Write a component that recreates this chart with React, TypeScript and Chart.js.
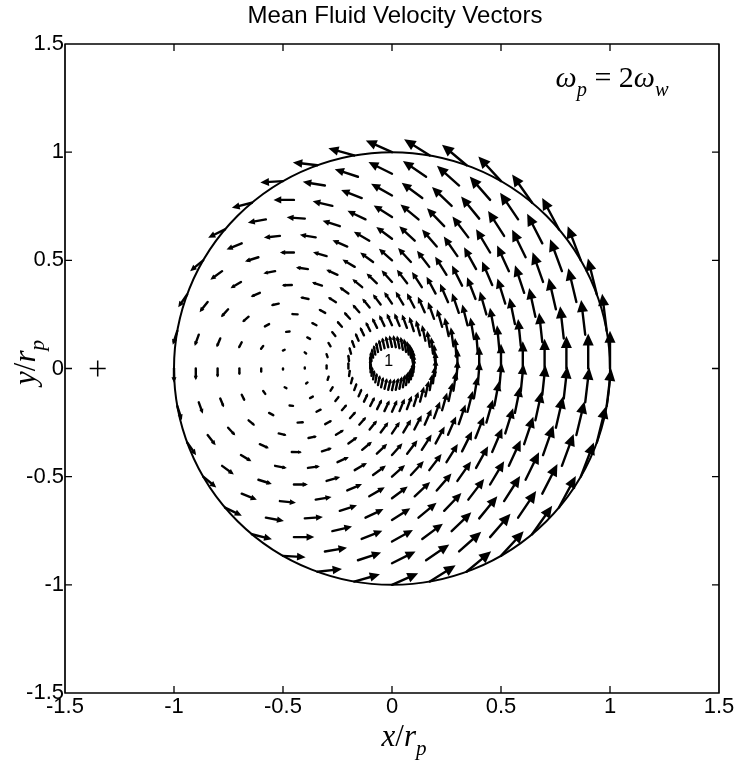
import React, { useEffect, useRef } from "react";
import { Chart, registerables } from "chart.js";

Chart.register(...registerables);

const TITLE = "Mean Fluid Velocity Vectors";
const xTicks = [-1.5, -1, -0.5, 0, 0.5, 1, 1.5];
const yTicks = [-1.5, -1, -0.5, 0, 0.5, 1, 1.5];

// Polar sampling grid of the vectors
const ringRadii = [0.1, 0.2, 0.3, 0.4, 0.5, 0.6, 0.7, 0.8, 0.9, 1.0];
const ringAnglesDeg = [
  0, 10, 20, 30, 40, 50, 60, 70, 80, 90, 100, 110, 120, 130, 140, 150, 160, 170,
  180, 190, 200, 210, 220, 230, 240, 250, 260, 270, 280, 290, 300, 310, 320, 330, 340, 350,
];
// The mean flow is a counter-clockwise swirl about a stagnation point
const swirlCenter = [-0.45, 0];
const arrowScale = 0.12; // arrow length in x/r_p units per unit swirl speed

const boundaryRadius = 1;
const plusMarker = [{ x: -1.35, y: 0 }];
const centerLabel = { x: -0.015, y: 0.03, text: "1" };
const annotationPos = { x: 0.75, y: 1.3 };

type Seg = { t: string; it?: boolean; sub?: boolean };

function serifFont(size: number, italic: boolean) {
  return `${italic ? "italic " : ""}${size}px "Liberation Serif", "Times New Roman", serif`;
}

function drawRich(ctx: CanvasRenderingContext2D, segs: Seg[], x: number, y: number, size: number, align: "left" | "center") {
  const fs = (s: Seg) => serifFont(s.sub ? size * 0.68 : size, !!s.it);
  let total = 0;
  for (const s of segs) {
    ctx.font = fs(s);
    total += ctx.measureText(s.t).width;
  }
  let cx = align === "center" ? x - total / 2 : x;
  ctx.textAlign = "left";
  ctx.textBaseline = "alphabetic";
  for (const s of segs) {
    ctx.font = fs(s);
    ctx.fillText(s.t, cx, y + (s.sub ? size * 0.3 : 0));
    cx += ctx.measureText(s.t).width;
  }
}

function drawArrow(ctx: CanvasRenderingContext2D, x0: number, y0: number, x1: number, y1: number) {
  const dx = x1 - x0;
  const dy = y1 - y0;
  const len = Math.hypot(dx, dy);
  if (len < 1.2) {
    ctx.fillRect(x0 - 1.2, y0 - 1.2, 2.4, 2.4);
    return;
  }
  const ux = dx / len;
  const uy = dy / len;
  const hl = Math.min(len * 0.38, 12);
  const hw = hl * 0.46;
  const bx = x1 - ux * hl;
  const by = y1 - uy * hl;
  ctx.beginPath();
  ctx.moveTo(x0, y0);
  ctx.lineTo(bx + ux * hl * 0.4, by + uy * hl * 0.4);
  ctx.stroke();
  ctx.beginPath();
  ctx.moveTo(x1, y1);
  ctx.lineTo(bx - uy * hw, by + ux * hw);
  ctx.lineTo(bx + uy * hw, by - ux * hw);
  ctx.closePath();
  ctx.fill();
}

const fieldPlugin = {
  id: "fieldPlugin",
  afterDatasetsDraw(chart: any) {
    const ctx: CanvasRenderingContext2D = chart.ctx;
    const xs = chart.scales.x;
    const ys = chart.scales.y;
    const { left, right, top, bottom } = chart.chartArea;
    ctx.save();
    ctx.strokeStyle = "#000";
    ctx.fillStyle = "#000";

    // boundary circle
    const cx = xs.getPixelForValue(0);
    const cy = ys.getPixelForValue(0);
    const rx = xs.getPixelForValue(boundaryRadius) - cx;
    const ry = cy - ys.getPixelForValue(boundaryRadius);
    ctx.lineWidth = 2;
    ctx.beginPath();
    ctx.ellipse(cx, cy, rx, ry, 0, 0, Math.PI * 2);
    ctx.stroke();

    // velocity vectors
    ctx.lineWidth = 2.4;
    ctx.lineCap = "round";
    ctx.lineJoin = "round";
    for (const r of ringRadii) {
      for (const a of ringAnglesDeg) {
        const t = (a * Math.PI) / 180;
        const x0 = r * Math.cos(t);
        const y0 = r * Math.sin(t);
        const u = -(y0 - swirlCenter[1]) * arrowScale;
        const v = (x0 - swirlCenter[0]) * arrowScale;
        drawArrow(
          ctx,
          xs.getPixelForValue(x0),
          ys.getPixelForValue(y0),
          xs.getPixelForValue(x0 + u),
          ys.getPixelForValue(y0 + v)
        );
      }
    }

    // center label
    ctx.fillStyle = "#fff";
    const lx = xs.getPixelForValue(centerLabel.x);
    const ly = ys.getPixelForValue(centerLabel.y);
    ctx.fillStyle = "#000";
    ctx.font = '16px "Liberation Sans", Arial, sans-serif';
    ctx.textAlign = "center";
    ctx.textBaseline = "middle";
    ctx.fillText(centerLabel.text, lx, ly);

    // frame
    ctx.lineWidth = 1.7;
    ctx.lineCap = "butt";
    ctx.strokeRect(left, top, right - left, bottom - top);

    // inner ticks
    const tl = 7;
    ctx.lineWidth = 1.3;
    ctx.beginPath();
    for (const v of xTicks) {
      if (v <= -1.5 || v >= 1.5) continue;
      const px = xs.getPixelForValue(v);
      ctx.moveTo(px, bottom);
      ctx.lineTo(px, bottom - tl);
      ctx.moveTo(px, top);
      ctx.lineTo(px, top + tl);
    }
    for (const v of yTicks) {
      if (v <= -1.5 || v >= 1.5) continue;
      const py = ys.getPixelForValue(v);
      ctx.moveTo(left, py);
      ctx.lineTo(left + tl, py);
      ctx.moveTo(right, py);
      ctx.lineTo(right - tl, py);
    }
    ctx.stroke();

    // title
    ctx.font = '24px "Liberation Sans", Arial, sans-serif';
    ctx.textAlign = "center";
    ctx.textBaseline = "middle";
    ctx.fillText(TITLE, (left + right) / 2 + 3, 16);

    // annotation ω_p = 2ω_w
    drawRich(
      ctx,
      [
        { t: "ω", it: true },
        { t: "p", it: true, sub: true },
        { t: " = 2" },
        { t: "ω", it: true },
        { t: "w", it: true, sub: true },
      ],
      xs.getPixelForValue(annotationPos.x),
      ys.getPixelForValue(annotationPos.y),
      30,
      "left"
    );

    // x axis title
    drawRich(
      ctx,
      [{ t: "x", it: true }, { t: "/" }, { t: "r", it: true }, { t: "p", it: true, sub: true }],
      (left + right) / 2 + 12,
      746,
      31,
      "center"
    );

    // y axis title
    ctx.save();
    ctx.translate(35, (top + bottom) / 2 - 6);
    ctx.rotate(-Math.PI / 2);
    drawRich(
      ctx,
      [{ t: "y", it: true }, { t: "/" }, { t: "r", it: true }, { t: "p", it: true, sub: true }],
      0,
      0,
      31,
      "center"
    );
    ctx.restore();

    ctx.restore();
  },
};

const tickFont = { family: '"Liberation Sans", Arial, sans-serif', size: 22 };

export default function App() {
  const ref = useRef<HTMLCanvasElement>(null);
  useEffect(() => {
    document.body.style.margin = "0";
    document.body.style.overflow = "hidden";
    const chart = new Chart(ref.current as HTMLCanvasElement, {
      type: "scatter",
      data: {
        datasets: [
          {
            data: plusMarker,
            pointStyle: "cross",
            pointRadius: 8,
            borderColor: "#000",
            backgroundColor: "#000",
            borderWidth: 1.5,
          },
        ],
      },
      options: {
        animation: false,
        responsive: false,
        devicePixelRatio: 1,
        layout: { padding: { left: 0, top: 44, right: 27, bottom: 0 } },
        plugins: {
          legend: { display: false },
          tooltip: { enabled: false },
          title: { display: false },
        },
        scales: {
          x: {
            type: "linear",
            min: -1.5,
            max: 1.5,
            afterFit: (s: any) => {
              s.height = 69;
            },
            afterBuildTicks: (s: any) => {
              s.ticks = xTicks.map((v) => ({ value: v }));
            },
            grid: { display: false, drawTicks: false },
            border: { display: false },
            ticks: {
              color: "#000",
              font: tickFont,
              padding: 1,
              autoSkip: false,
              maxRotation: 0,
              callback: (v: any) => String(v),
            },
          },
          y: {
            type: "linear",
            min: -1.5,
            max: 1.5,
            afterFit: (s: any) => {
              s.width = 65;
            },
            afterBuildTicks: (s: any) => {
              s.ticks = yTicks.map((v) => ({ value: v }));
            },
            grid: { display: false, drawTicks: false },
            border: { display: false },
            ticks: {
              color: "#000",
              font: tickFont,
              padding: 1,
              autoSkip: false,
              callback: (v: any) => String(v),
            },
          },
        },
      },
      plugins: [fieldPlugin],
    } as any);
    return () => chart.destroy();
  }, []);
  return (
    <div style={{ width: 746, height: 762 }}>
      <canvas ref={ref} width={746} height={762} />
    </div>
  );
}
